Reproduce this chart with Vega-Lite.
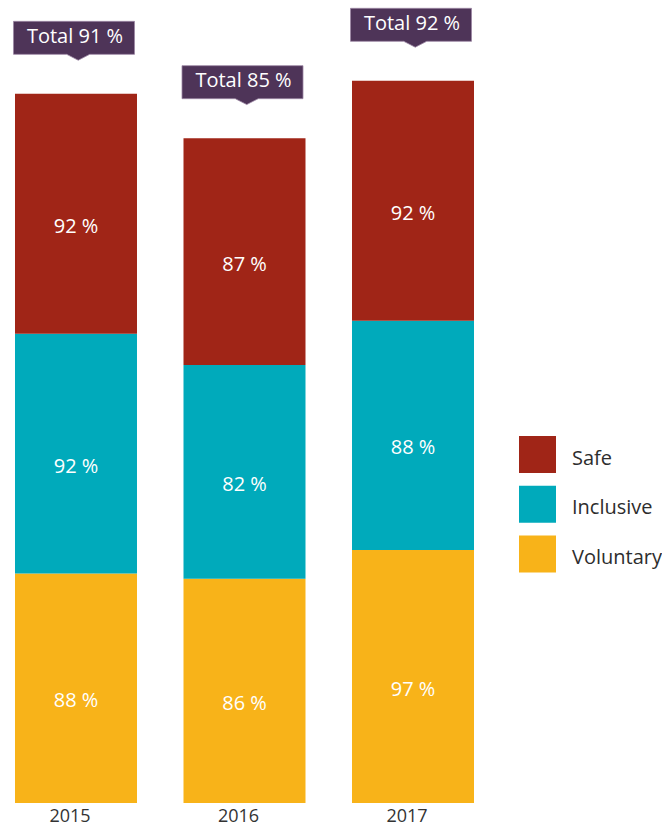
{
  "$schema": "https://vega.github.io/schema/vega-lite/v6.json",
  "width": 489,
  "height": 803,
  "padding": 0,
  "background": "white",
  "config": {
    "view": {"stroke": null},
    "font": "Open Sans"
  },
  "data": {
    "values": [
      {"year": "2015", "category": "Voluntary", "value": 88, "order": 1, "total": 91},
      {"year": "2015", "category": "Inclusive", "value": 92, "order": 2, "total": 91},
      {"year": "2015", "category": "Safe", "value": 92, "order": 3, "total": 91},
      {"year": "2016", "category": "Voluntary", "value": 86, "order": 1, "total": 85},
      {"year": "2016", "category": "Inclusive", "value": 82, "order": 2, "total": 85},
      {"year": "2016", "category": "Safe", "value": 87, "order": 3, "total": 85},
      {"year": "2017", "category": "Voluntary", "value": 97, "order": 1, "total": 92},
      {"year": "2017", "category": "Inclusive", "value": 88, "order": 2, "total": 92},
      {"year": "2017", "category": "Safe", "value": 92, "order": 3, "total": 92}
    ]
  },
  "transform": [
    {"stack": "value", "groupby": ["year"], "sort": [{"field": "order"}], "as": ["v0", "v1"]},
    {"calculate": "(datum.v0 + datum.v1) / 2", "as": "mid"},
    {"calculate": "datum.value + ' %'", "as": "label"},
    {"calculate": "'Total ' + datum.total + ' %'", "as": "totalLabel"}
  ],
  "encoding": {
    "x": {
      "field": "year",
      "type": "nominal",
      "scale": {"paddingInner": 0.276, "paddingOuter": 0.089},
      "axis": {
        "title": null,
        "labelAngle": 0,
        "domain": false,
        "ticks": false,
        "labelPadding": 4,
        "labelFont": "Open Sans",
        "labelFontSize": 18,
        "labelColor": "#333333",
        "labelOffset": -6
      }
    }
  },
  "layer": [
    {
      "mark": {"type": "bar"},
      "encoding": {
        "y": {"field": "v0", "type": "quantitative", "scale": {"domain": [0, 308], "nice": false}, "axis": null},
        "y2": {"field": "v1"},
        "color": {
          "field": "category",
          "type": "nominal",
          "scale": {"domain": ["Safe", "Inclusive", "Voluntary"], "range": ["#a02517", "#00aabb", "#f8b319"]},
          "legend": {
            "title": null,
            "orient": "none",
            "legendX": 519,
            "legendY": 436,
            "symbolType": "square",
            "symbolSize": 1369,
            "symbolStrokeWidth": 0,
            "symbolOpacity": 1,
            "rowPadding": 12.7,
            "labelOffset": 16,
            "labelFont": "Open Sans",
            "labelFontSize": 20,
            "labelColor": "#2d2d2d",
            "padding": 0,
            "encode": {"labels": {"update": {"dy": {"value": 4}}}}
          }
        }
      }
    },
    {
      "mark": {"type": "text", "color": "white", "font": "Open Sans", "fontSize": 20, "dy": 13},
      "encoding": {
        "y": {"field": "mid", "type": "quantitative"},
        "text": {"field": "label"}
      }
    },
    {
      "transform": [{"filter": "datum.order == 3"}],
      "mark": {
        "type": "point",
        "shape": "M-1,-0.2727 L1,-0.2727 L1,0.2727 L0.26,0.2727 L0.07,0.37 L-0.12,0.2727 L-1,0.2727 Z",
        "size": 14641,
        "filled": true,
        "fill": "#4e3458",
        "opacity": 1,
        "stroke": "#9c86a3",
        "strokeWidth": 0.8,
        "yOffset": -56,
        "xOffset": -2
      },
      "encoding": {
        "y": {"field": "v1", "type": "quantitative"}
      }
    },
    {
      "transform": [{"filter": "datum.order == 3"}],
      "mark": {
        "type": "text",
        "color": "white",
        "font": "Open Sans",
        "fontSize": 20,
        "yOffset": -57,
        "xOffset": -1
      },
      "encoding": {
        "y": {"field": "v1", "type": "quantitative"},
        "text": {"field": "totalLabel"}
      }
    }
  ]
}
